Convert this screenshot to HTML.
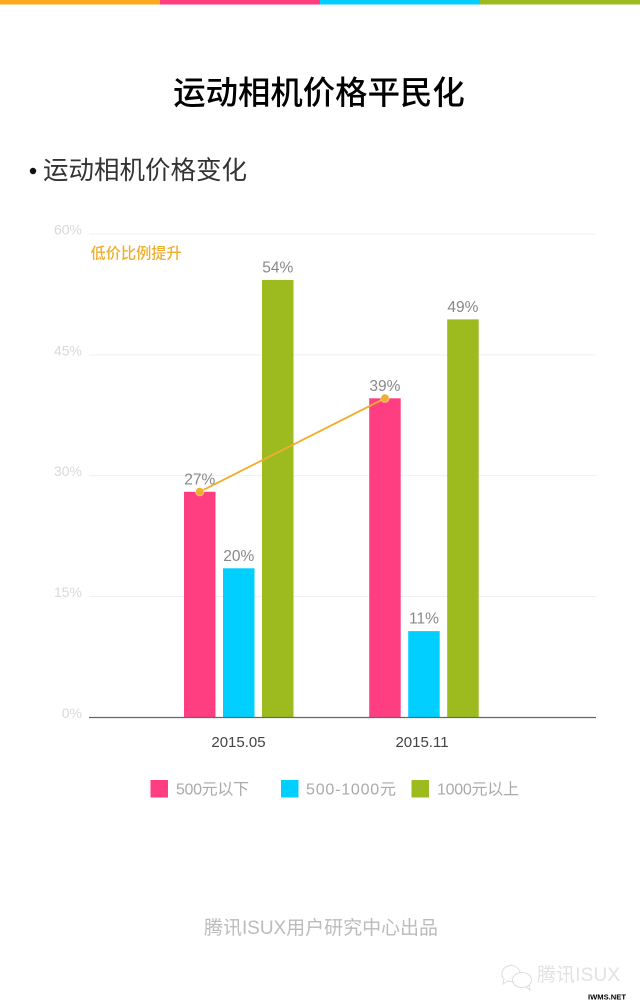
<!DOCTYPE html>
<html lang="zh">
<head>
<meta charset="utf-8">
<title>运动相机价格平民化</title>
<style>
html,body{margin:0;padding:0;background:#fff;}
body{width:640px;height:1008px;overflow:hidden;}
svg{display:block;font-family:"Liberation Sans","Noto Sans CJK SC",sans-serif;}
.cjk{font-family:"Noto Sans CJK SC","Liberation Sans",sans-serif;}
</style>
</head>
<body>
<svg id="chart" width="640" height="1008" viewBox="0 0 640 1008">
  <rect x="0" y="0" width="640" height="1008" fill="#fff"/>
  <g>
    <rect x="0" y="0" width="160" height="4.5" fill="#FFA91C"/>
    <rect x="160" y="0" width="160" height="4.5" fill="#FF3E81"/>
    <rect x="320" y="0" width="160" height="4.5" fill="#00CFFF"/>
    <rect x="480" y="0" width="160" height="4.5" fill="#9DBB1F"/>
  </g>
  <text class="cjk" x="319" y="104" text-anchor="middle" font-size="32.4" font-weight="500" fill="#000">运动相机价格平民化</text>
  <circle cx="33" cy="171" r="3.2" fill="#111"/>
  <text class="cjk" x="43" y="179" font-size="25.5" font-weight="400" fill="#333">运动相机价格变化</text>
  <g id="grid"></g>
  <g id="ylabels"></g>
  <g id="bars"></g>
  <line x1="89" y1="717.5" x2="596" y2="717.5" stroke="#666" stroke-width="1.2"/>
  <g id="xlabels"></g>
  <g id="trend"></g>
  <text class="cjk" x="90.5" y="258.5" font-size="15.2" font-weight="500" fill="#EFAE2C">低价比例提升</text>
  <g>
    <rect x="150.5" y="780" width="17.5" height="17.5" fill="#FF3E81"/>
    <text x="176" y="794.5" font-size="16" fill="#aaa" textLength="73" lengthAdjust="spacing">500元以下</text>
    <rect x="281" y="780" width="17.5" height="17.5" fill="#00CFFF"/>
    <text x="306" y="794.5" font-size="16" fill="#aaa" textLength="90" lengthAdjust="spacing">500-1000元</text>
    <rect x="411.5" y="780" width="17.5" height="17.5" fill="#9DBB1F"/>
    <text x="437" y="794.5" font-size="16" fill="#aaa" textLength="82" lengthAdjust="spacing">1000元以上</text>
  </g>
  <text x="204" y="934" font-size="19" fill="#bbb" textLength="234" lengthAdjust="spacing">腾讯ISUX用户研究中心出品</text>
  <g fill="none" stroke="#dedede" stroke-width="1">
    <path d="M520 973 C519 967 513 964 508 966 C502 968 500 975 504 979 L503 984 L508 981 C510 982 512 982 514 982"/>
    <ellipse cx="522" cy="980" rx="9.5" ry="7.5"/>
    <path d="M526 987 L530 990 L529 985"/>
  </g>
  <text x="537" y="981" font-size="19" fill="#e2e2e2" textLength="83" lengthAdjust="spacing">腾讯ISUX</text>
  <text x="588" y="999.5" font-size="7" font-weight="700" fill="#000" textLength="38" lengthAdjust="spacingAndGlyphs">IWMS.NET</text>
</svg>
<script>
var NS = 'http://www.w3.org/2000/svg';
var categories = ['2015.05', '2015.11'];
var seriesNames = ['500元以下', '500-1000元', '1000元以上'];
var under500 = [28, 39.6];
var mid500to1000 = [18.5, 10.7];
var over1000 = [54.3, 49.4];
var under500Labels = ['27%', '39%'];
var mid500to1000Labels = ['20%', '11%'];
var over1000Labels = ['54%', '49%'];
var trendValues = [28, 39.6];
var yTicks = [0, 15, 30, 45, 60];

var plotBottom = 717.3;
var plotTop = 234;
var yMax = 60;
var groupStart = 184;
var groupStep = 185.2;
var barWidth = 31.5;
var barStep = 39;
var labelStart = 238.5;
var labelStep = 183.5;
var seriesColors = ['#FF3E81', '#00CFFF', '#9DBB1F'];

function yScale(v) {
  return plotBottom - (v / yMax) * (plotBottom - plotTop);
}
function barX(groupIndex, seriesIndex) {
  return groupStart + groupIndex * groupStep + seriesIndex * barStep;
}
function make(tag, parentId) {
  var el = document.createElementNS(NS, tag);
  document.getElementById(parentId).appendChild(el);
  return el;
}

yTicks.forEach(function (t) {
  if (t !== 0) {
    var line = make('line', 'grid');
    
    
    line.setAttribute('x1', 89);
    line.setAttribute('x2', 596);
    line.setAttribute('y1', yScale(t));
    line.setAttribute('y2', yScale(t));
    line.setAttribute('stroke', '#f1f1f1');
    line.setAttribute('stroke-width', 1);
  }
  var label = make('text', 'ylabels');
  
  
  label.setAttribute('x', 82);
  label.setAttribute('y', yScale(t) + 0.5);
  label.setAttribute('text-anchor', 'end');
  label.setAttribute('font-size', 14);
  label.setAttribute('fill', '#d9d9d9');
  label.textContent = t + '%';
});

var seriesValues = [under500, mid500to1000, over1000];
var seriesLabels = [under500Labels, mid500to1000Labels, over1000Labels];
seriesValues.forEach(function (values, s) {
  values.forEach(function (v, g) {
    var bar = make('rect', 'bars');
    
    
    bar.setAttribute('x', barX(g, s));
    bar.setAttribute('y', yScale(v));
    bar.setAttribute('width', barWidth);
    bar.setAttribute('height', plotBottom - yScale(v));
    bar.setAttribute('fill', seriesColors[s]);
    var text = make('text', 'bars');
    
    
    text.setAttribute('x', barX(g, s) + barWidth / 2);
    text.setAttribute('y', yScale(v) - 7.5);
    text.setAttribute('text-anchor', 'middle');
    text.setAttribute('font-size', 15.5);
    text.setAttribute('fill', '#888');
    text.textContent = seriesLabels[s][g];
  });
});

categories.forEach(function (c, g) {
  var text = make('text', 'xlabels');
  
  
  text.setAttribute('x', labelStart + g * labelStep);
  text.setAttribute('y', 747);
  text.setAttribute('text-anchor', 'middle');
  text.setAttribute('font-size', 15);
  text.setAttribute('fill', '#444');
  text.textContent = c;
});

var path = make('polyline', 'trend');


path.setAttribute('points', trendValues.map(function (v, g) {
  return (barX(g, 0) + barWidth / 2) + ',' + yScale(v);
}).join(' '));
path.setAttribute('fill', 'none');
path.setAttribute('stroke', '#EFAE2C');
path.setAttribute('stroke-width', 1.8);
trendValues.forEach(function (v, g) {
  var dot = make('circle', 'trend');
  
  
  dot.setAttribute('cx', barX(g, 0) + barWidth / 2);
  dot.setAttribute('cy', yScale(v));
  dot.setAttribute('r', 4.2);
  dot.setAttribute('fill', '#EFAE2C');
  dot.setAttribute('stroke', '#fff');
  dot.setAttribute('stroke-opacity', 0.5);
  dot.setAttribute('stroke-width', 0.8);
});
</script>
</body>
</html>
